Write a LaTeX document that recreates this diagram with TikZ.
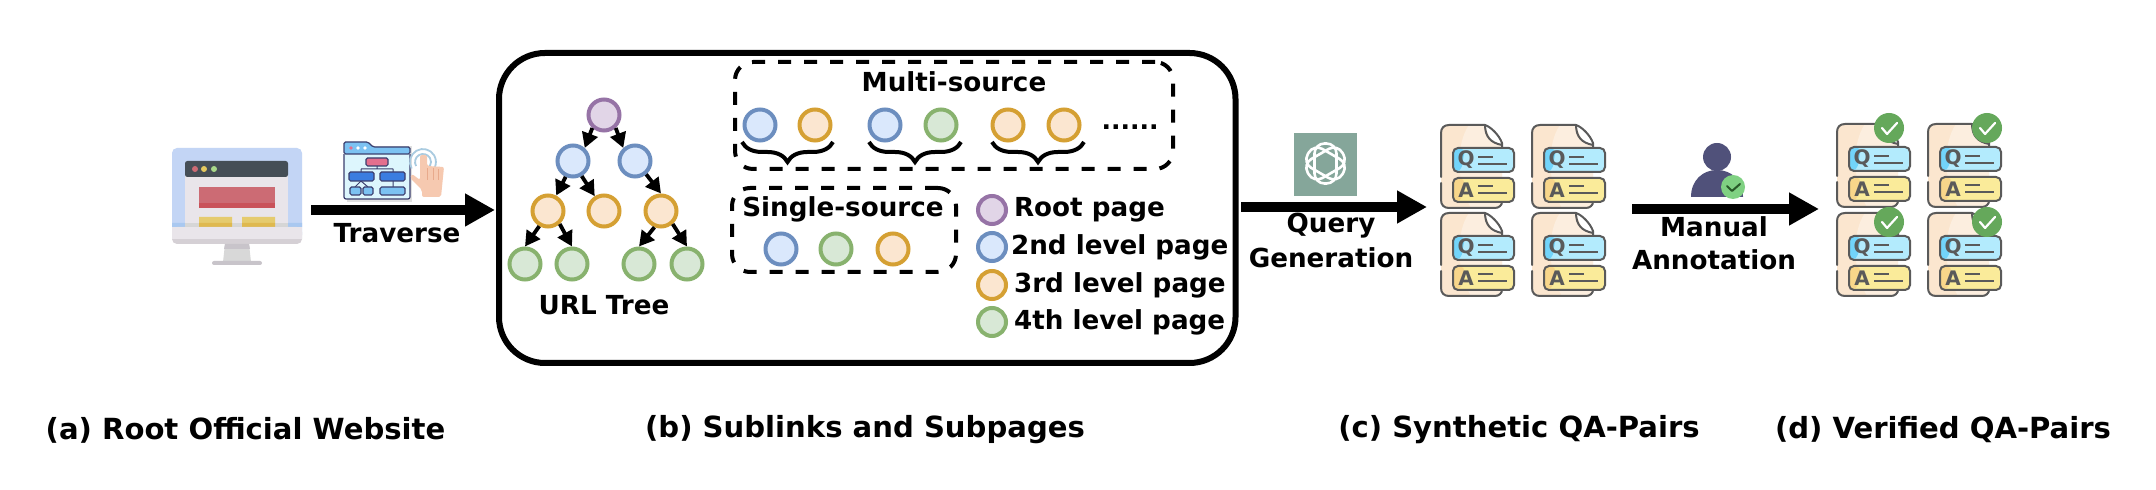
\documentclass[tikz,border=0pt]{standalone}
\usepackage{fontspec}
\setmainfont{DejaVu Sans}
\usetikzlibrary{arrows.meta,decorations.pathreplacing,shapes.geometric}
\definecolor{cpurB}{HTML}{9673A6}\definecolor{cpurF}{HTML}{E1D5E7}
\definecolor{cbluB}{HTML}{6C8EBF}\definecolor{cbluF}{HTML}{DAE8FC}
\definecolor{coraB}{HTML}{D5A033}\definecolor{coraF}{HTML}{FBE6D0}
\definecolor{cgreB}{HTML}{88B26E}\definecolor{cgreF}{HTML}{D8E8D6}
\definecolor{dline}{HTML}{5A5A5A}
\definecolor{navy}{HTML}{3B3E6E}
\definecolor{qaQ}{HTML}{B3EBFD}\definecolor{qaQd}{HTML}{72D4FA}
\definecolor{qaA}{HTML}{FAEB9A}\definecolor{qaAd}{HTML}{F8D68A}
\definecolor{badgeG}{HTML}{65A85B}
\definecolor{docF}{HTML}{FBE6CF}
\tikzset{
  x=.5pt,y=-.5pt,
  lbl/.style={font=\fontsize{13.1}{15}\selectfont\bfseries,inner sep=0pt,outer sep=0pt},
  captxt/.style={font=\fontsize{14.55}{16}\selectfont\bfseries,inner sep=0pt,outer sep=0pt},
  pg/.style={circle,draw,line width=2pt,minimum size=15.5pt,inner sep=0pt},
  lg/.style={circle,draw,line width=2pt,minimum size=14pt,inner sep=0pt},
  purp/.style={draw=cpurB,fill=cpurF},
  blu/.style={draw=cbluB,fill=cbluF},
  ora/.style={draw=coraB,fill=coraF},
  gre/.style={draw=cgreB,fill=cgreF},
  edgeA/.style={line width=1.9pt,-{Triangle[length=7.5pt,width=8pt]}},
  bigarrow/.style={line width=5.25pt,-{Triangle[length=15pt,width=15.5pt]}},
  dashbox/.style={draw,line width=2pt,rounded corners=9pt,dash pattern=on 6.5pt off 6.5pt,inner sep=0pt},
  brc/.style={draw,line width=2pt,decorate,decoration={brace,amplitude=10pt}},
  qadoc/.pic={
    \fill[docF] (0,8) .. controls (0,3) and (3,0) .. (8,0) -- (44,0) .. controls (48,14) and (52,20) .. (61,20) -- (61,75) .. controls (61,80) and (58,83) .. (54,83) -- (8,83) .. controls (3,83) and (0,80) .. (0,75) -- cycle;
    \fill[white,opacity=.35] (28,0) -- (44,0) -- (46,12) -- (61,20) -- (61,83) -- (30,83) .. controls (16,60) and (14,20) .. (28,0) -- cycle;
    \draw[dline,line width=1pt,line cap=round,line join=round]
      (0,52) -- (0,8) .. controls (0,3) and (3,0) .. (8,0) -- (44,0) .. controls (50,2) and (58,10) .. (61,18) -- (61,22)
      (44,0) .. controls (44,12) and (50,18) .. (61,20)
      (0,58) -- (0,75) .. controls (0,80) and (3,83) .. (8,83) -- (54,83) .. controls (58,83) and (61,80) .. (61,77);
    \fill[qaQ,rounded corners=2.5pt] (12,23) rectangle (73,47);
    \fill[qaQd,rounded corners=2.5pt] (12.5,23.5) -- (24,23.5) -- (20,46.5) -- (12.5,46.5) -- cycle;
    \draw[dline,line width=1pt,rounded corners=2.5pt] (12,23) rectangle (73,47);
    \fill[qaA,rounded corners=2.5pt] (12,53) rectangle (73,77);
    \fill[qaAd,rounded corners=2.5pt] (12.5,53.5) -- (24,53.5) -- (20,76.5) -- (12.5,76.5) -- cycle;
    \draw[dline,line width=1pt,rounded corners=2.5pt] (12,53) rectangle (73,77);
    \node[font=\fontsize{10}{10}\selectfont\bfseries,text=dline,inner sep=0pt] (-q) at (25,35) {Q};
    \node[font=\fontsize{10}{10}\selectfont\bfseries,text=dline,inner sep=0pt] (-a) at (25,65) {A};
    \draw[dline,line width=1pt] (37,32)--(52,32) (37,39)--(66,39) (37,61)--(52,61) (37,68)--(66,68);
  },
  okbadge/.pic={
    \fill[badgeG] (0,0) circle (7.5pt);
    \draw[white,line width=1.1pt,line cap=round,line join=round] (-7,0) -- (-2,6) -- (8,-5);
  }
}
\begin{document}
\begin{tikzpicture}
\useasboundingbox[fill=white] (0,0) rectangle (2156,490);

% ---- monitor
\fill[fill={rgb,255:red,195;green,213;blue,245},rounded corners=2.5pt] (172,148) rectangle (302,240);
\fill[fill={rgb,255:red,233;green,229;blue,234}] (185,170) rectangle (288,227);
\fill[fill={rgb,255:red,69;green,78;blue,86},rounded corners=1.2pt] (185,161) rectangle (288,177);
\fill[fill={rgb,255:red,204;green,107;blue,116}] (199,187) rectangle (275,203);
\fill[fill={rgb,255:red,201;green,82;blue,90}] (199,203) rectangle (275,208);
\fill[fill={rgb,255:red,229;green,203;blue,110}] (199,217) rectangle (232,227) (242,217) rectangle (275,227);
\fill[fill={rgb,255:red,169;green,200;blue,240}] (172,223) rectangle (185,227) (288,223) rectangle (302,227);
\fill[fill={rgb,255:red,214;green,214;blue,214}] (185,223) rectangle (288,227);
\fill[fill={rgb,255:red,223;green,185;blue,79}] (199,223) rectangle (232,227) (242,223) rectangle (275,227);
\fill[fill={rgb,255:red,213;green,208;blue,213},rounded corners=2.5pt] (172,227) rectangle (302,244);
\fill[fill={rgb,255:red,233;green,229;blue,234}] (172,227) rectangle (302,239);
\fill[fill={rgb,255:red,216;green,216;blue,216}] (225,244) -- (249,244) -- (251,262) -- (223,262) -- cycle;
\fill[fill={rgb,255:red,200;green,196;blue,202}] (225,244) -- (249,244) -- (250,249) -- (224,249) -- cycle;
\fill[fill={rgb,255:red,200;green,196;blue,202},rounded corners=1pt] (212,261) rectangle (262,265);
\fill[fill={rgb,255:red,204;green,107;blue,116}] (195,169) circle (1.5pt);
\fill[fill={rgb,255:red,229;green,201;blue,95}] (204,169) circle (1.5pt);
\fill[fill={rgb,255:red,169;green,216;blue,138}] (214,169) circle (1.5pt);

% ---- sitemap icon
\fill[black!12] (347,146) rectangle (412,202);
\fill[fill={rgb,255:red,221;green,246;blue,253}] (344,147) rectangle (410,199);
\draw[navy,line width=.6pt,fill={rgb,255:red,124;green,194;blue,242},rounded corners=.8pt] (344,154) -- (344,142) -- (368,142) -- (373,147) -- (410,147) -- (410,154) -- cycle;
\draw[navy,line width=.6pt,rounded corners=1pt] (344,154) -- (344,199) -- (410,199) -- (410,154);
\fill[fill={rgb,255:red,228;green,111;blue,142}] (351,148) circle (.9pt);
\fill[white] (358,148) circle (.9pt) (365,148) circle (.9pt);
\draw[navy,line width=.5pt] (377,166) -- (377,169) (361,169) -- (393,169) (361,169) -- (361,172) (393,169) -- (393,172) (393,181) -- (393,187) (361,181) -- (355,187) (361,181) -- (368,187);
\draw[navy,line width=.6pt,fill={rgb,255:red,228;green,111;blue,142},rounded corners=.8pt] (366,158) rectangle (388,166);
\draw[navy,line width=.6pt,fill={rgb,255:red,59;green,125;blue,224},rounded corners=.8pt] (349,172) rectangle (374,181) (380,172) rectangle (405,181);
\draw[navy,line width=.6pt,fill={rgb,255:red,124;green,194;blue,242},rounded corners=.8pt] (350,187) rectangle (361,195) (363,187) rectangle (373,195) (380,187) rectangle (405,195);
\draw[draw={rgb,255:red,169;green,203;blue,224},line width=.9pt] (416.1,166) arc[start angle=210,end angle=-30,radius=4pt];
\draw[draw={rgb,255:red,169;green,203;blue,224},line width=.9pt] (411.7,168.5) arc[start angle=210,end angle=-30,radius=6.5pt];
\fill[fill={rgb,255:red,246;green,201;blue,176},rounded corners=1pt] (422,197) -- (422,190) -- (410,178) -- (412,174) -- (420,180) -- (420,155) -- (427,155) -- (427,166) -- (444,167) -- (441,197) -- cycle;
\draw[draw={rgb,255:red,232;green,170;blue,140},line width=.4pt] (427,180) -- (427,168) (433,180) -- (433,168) (438,180) -- (438,169);

% ---- arrow 1
\coordinate (a1s) at (311,210);
\coordinate (a1e) at (495,210);
\draw[bigarrow] (a1s) -- (a1e);
\node[lbl] (ltrav) at (397,233) {Traverse};

% ---- main box
\node[draw,line width=3pt,rounded corners=23pt,minimum width=368.25pt,minimum height=155pt,inner sep=0pt] (mainbox) at (867.25,208) {};

% ---- tree
\node[pg,purp] (root) at (604,115) {};
\node[pg,blu] (l2a) at (573,161) {};
\node[pg,blu] (l2b) at (635,161) {};
\node[pg,ora] (l3a) at (548,211) {};
\node[pg,ora] (l3b) at (604,211) {};
\node[pg,ora] (l3c) at (661,211) {};
\node[pg,gre] (l4a) at (525,264) {};
\node[pg,gre] (l4b) at (572,264) {};
\node[pg,gre] (l4c) at (639,264) {};
\node[pg,gre] (l4d) at (687,264) {};
\draw[edgeA] (root.-132) -- (l2a.48);
\draw[edgeA] (root.-48) -- (l2b.132);
\draw[edgeA] (l2a.-115) -- (l3a.62);
\draw[edgeA] (l2a.-60) -- (l3b.122);
\draw[edgeA] (l2b.-50) -- (l3c.north);
\draw[edgeA] (l3a.-120) -- (l4a.north);
\draw[edgeA] (l3a.-48) -- (l4b.north);
\draw[edgeA] (l3c.-112) -- (l4c.north);
\draw[edgeA] (l3c.-48) -- (l4d.north);
\node[lbl] (lurl) at (604,305) {URL Tree};

% ---- multi-source
\node[dashbox,minimum width=219pt,minimum height=53.5pt] (multi) at (954,115.5) {};
\node[lbl] (lmulti) at (954,82) {Multi-source};
\node[pg,blu] (m1) at (760,125) {};
\node[pg,ora] (m2) at (815,125) {};
\node[pg,blu] (m3) at (885,125) {};
\node[pg,gre] (m4) at (941,125) {};
\node[pg,ora] (m5) at (1008,125) {};
\node[pg,ora] (m6) at (1064,125) {};
\node[font=\fontsize{12.5}{12}\selectfont\bfseries,inner sep=0pt,anchor=base] (mdots) at (1130,130) {......};
\coordinate (b1r) at (833,142); \coordinate (b1l) at (742,142);
\coordinate (b2r) at (961,142); \coordinate (b2l) at (869,142);
\coordinate (b3r) at (1084,142); \coordinate (b3l) at (992,142);
\path[brc] (b1r) -- (b1l);
\path[brc] (b2r) -- (b2l);
\path[brc] (b3r) -- (b3l);

% ---- single-source
\node[dashbox,minimum width=112pt,minimum height=42pt] (single) at (844,230) {};
\node[lbl] (lsingle) at (843,209) {Single-source};
\node[pg,blu] (s1) at (781,249) {};
\node[pg,gre] (s2) at (836,249) {};
\node[pg,ora] (s3) at (893,249) {};

% ---- legend
\node[lg,purp] (k1) at (992,210) {};
\node[lg,blu] (k2) at (992,247) {};
\node[lg,ora] (k3) at (992,285) {};
\node[lg,gre] (k4) at (992,322) {};
\node[lbl,anchor=west] (t1) at (1014,210) {Root page};
\node[lbl,anchor=west] (t2) at (1011,247) {2nd level page};
\node[lbl,anchor=west] (t3) at (1014,285) {3rd level page};
\node[lbl,anchor=west] (t4) at (1014,322) {4th level page};

% ---- query generation
\coordinate (a2s) at (1241,207);
\coordinate (a2e) at (1427,207);
\draw[bigarrow] (a2s) -- (a2e);
\fill[fill={rgb,255:red,133;green,166;blue,154}] (1294,133) rectangle (1357,196);
\foreach \ang in {30,90,150}
  \node[draw=white,line width=1.3pt,rectangle,rounded corners=5pt,minimum width=20pt,minimum height=11pt,inner sep=0pt,rotate=\ang] (logo\ang) at (1325.5,163.5) {};
\node[lbl] (lq1) at (1331,226) {Query};
\node[lbl] (lq2) at (1331,258) {Generation};

% ---- docs
\pic (d1) at (1441,125) {qadoc};
\pic (d2) at (1532,125) {qadoc};
\pic (d3) at (1441,213) {qadoc};
\pic (d4) at (1532,213) {qadoc};

% ---- manual annotation
\coordinate (a3s) at (1632,209);
\coordinate (a3e) at (1819,209);
\draw[bigarrow] (a3s) -- (a3e);
\fill[fill={rgb,255:red,80;green,81;blue,122}] (1717,157) circle (7pt);
\fill[fill={rgb,255:red,80;green,81;blue,122}] (1691,197) .. controls (1691,180) and (1703,170) .. (1717,170) .. controls (1731,170) and (1743,180) .. (1743,197) -- cycle;
\fill[fill={rgb,255:red,127;green,209;blue,130}] (1733,187) circle (6pt);
\draw[draw={rgb,255:red,40;green,90;blue,40},line width=1pt,line cap=round,line join=round] (1727,186) -- (1732,191) -- (1740,184);
\node[lbl] (lm1) at (1714,227) {Manual};
\node[lbl] (lm2) at (1714,260) {Annotation};

% ---- verified docs
\pic (v1) at (1837,124) {qadoc};
\pic (v2) at (1928,124) {qadoc};
\pic (v3) at (1837,213) {qadoc};
\pic (v4) at (1928,213) {qadoc};
\pic at (1889,128) {okbadge};
\pic at (1987,128) {okbadge};
\pic at (1889,222) {okbadge};
\pic at (1987,222) {okbadge};

% ---- captions
\node[captxt] (ca) at (245.5,430) {(a) Root Official Website};
\node[captxt] (cb) at (865,430) {(b) Sublinks and Subpages};
\node[captxt] (cc) at (1519,430) {(c) Synthetic QA-Pairs};
\node[captxt] (cd) at (1943,430) {(d) Verified QA-Pairs};
\end{tikzpicture}
\end{document}
